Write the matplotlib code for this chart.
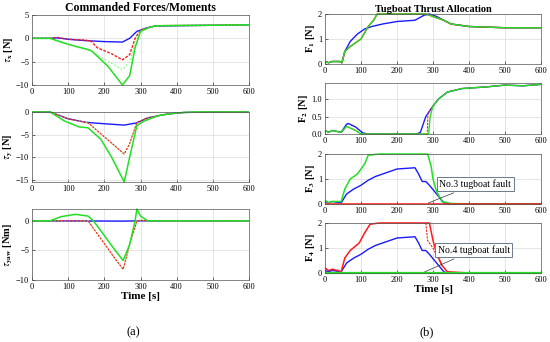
import matplotlib
matplotlib.use("Agg")
import matplotlib.pyplot as plt

plt.rcParams['font.family'] = ['Liberation Serif', 'DejaVu Serif']
plt.rcParams['mathtext.fontset'] = 'stix'
plt.rcParams['lines.solid_capstyle'] = 'butt'

BLUE = '#1a1aff'
RED = '#ff1a1a'
GREEN = '#22e022'
LGREEN = '#7dff7d'

# ---------- (a) Commanded forces / moments ----------
tx_blue_t = [0, 50, 70, 100, 150, 200, 250, 270, 290, 320, 340, 400, 500, 600]
tx_blue_v = [0, 0, 0.1, -0.2, -0.5, -0.7, -0.8, 0.0, 1.5, 2.3, 2.6, 2.7, 2.8, 2.9]
tx_red_t = [0, 50, 70, 100, 150, 165, 180, 220, 250, 270, 285, 300, 330, 350, 400, 500, 600]
tx_red_v = [0, 0, 0.2, -0.2, -0.4, -0.7, -2.0, -3.3, -4.6, -3.5, 0.0, 1.8, 2.5, 2.7, 2.75, 2.8, 2.9]
tx_lg_t = [0, 50, 80, 120, 160, 200, 250, 270, 290, 310, 340, 400, 500, 600]
tx_lg_v = [0, 0, -0.7, -1.8, -2.5, -4.5, -6.7, -5.0, 0.0, 2.0, 2.6, 2.75, 2.8, 2.9]
tx_gr_t = [0, 50, 80, 110, 150, 165, 210, 250, 270, 285, 300, 330, 350, 400, 500, 600]
tx_gr_v = [0, 0, -0.8, -1.5, -2.3, -2.7, -6.0, -10.0, -8.0, -2.0, 1.5, 2.5, 2.7, 2.75, 2.8, 2.9]

ty_blue_t = [0, 50, 100, 150, 200, 255, 290, 320, 370, 420, 500, 600]
ty_blue_v = [0, 0, -1.5, -2.3, -2.6, -2.9, -2.4, -1.3, -0.5, -0.1, 0.0, 0.0]
ty_red_t = [0, 50, 100, 155, 200, 255, 270, 290, 320, 370, 420, 500, 600]
ty_red_v = [0, 0, -1.5, -2.4, -5.5, -9.3, -7.0, -2.3, -1.3, -0.5, -0.1, 0.0, 0.0]
ty_gr_t = [0, 50, 90, 130, 155, 190, 220, 255, 270, 290, 310, 350, 400, 450, 600]
ty_gr_v = [0, 0, -2.0, -3.3, -3.5, -6.0, -10.0, -15.5, -10.0, -3.0, -2.0, -0.8, -0.2, 0.0, 0.0]

tw_blue_t = [0, 200, 250, 290, 600]
tw_blue_v = [0, -0.03, -0.05, 0.0, 0.0]
tw_red_t = [0, 155, 190, 225, 252, 270, 290, 300, 320, 600]
tw_red_v = [0, 0, -3.0, -6.0, -8.2, -4.0, 0.0, 0.1, 0.0, 0.0]
tw_gr_t = [0, 50, 80, 120, 155, 170, 200, 230, 252, 270, 285, 290, 300, 320, 600]
tw_gr_v = [0, 0, 0.7, 1.1, 0.8, 0.0, -2.5, -5.0, -6.7, -4.0, 0.0, 2.0, 0.8, 0.0, 0.0]

# ---------- (b) Tugboat thrust allocation ----------
f1_blue_t = [0, 10, 20, 40, 47, 55, 70, 90, 110, 130, 160, 200, 250, 275, 290, 310, 330, 350, 400, 500, 600]
f1_blue_v = [0.1, 0.05, 0.1, 0.1, 0.05, 0.5, 0.9, 1.2, 1.4, 1.5, 1.6, 1.7, 1.75, 1.95, 2.0, 1.9, 1.75, 1.6, 1.5, 1.45, 1.45]
f1_gr_t = [0, 10, 20, 40, 47, 55, 70, 100, 120, 135, 145, 280, 300, 330, 350, 400, 500, 600]
f1_gr_v = [0.1, 0.05, 0.1, 0.1, 0.05, 0.5, 0.7, 1.0, 1.5, 1.75, 2.0, 2.0, 1.9, 1.75, 1.6, 1.5, 1.45, 1.45]

f2_blue_t = [0, 10, 20, 45, 60, 65, 85, 105, 120, 255, 265, 280, 300, 315, 340, 380, 450, 500, 550, 600]
f2_blue_v = [0.1, 0.05, 0.1, 0.05, 0.28, 0.3, 0.2, 0.03, 0.0, 0.0, 0.05, 0.5, 0.8, 1.0, 1.2, 1.3, 1.35, 1.4, 1.38, 1.42]
f2_red_t = [0, 10, 20, 45, 60, 85, 100, 284, 286, 300, 315, 340, 380, 450, 500, 550, 600]
f2_red_v = [0.1, 0.05, 0.1, 0.05, 0.22, 0.1, 0.0, 0.0, 0.6, 0.8, 1.0, 1.2, 1.3, 1.35, 1.4, 1.38, 1.42]
f2_gr_t = [0, 10, 20, 45, 60, 85, 100, 288, 292, 300, 315, 340, 380, 450, 500, 550, 600]
f2_gr_v = [0.1, 0.05, 0.1, 0.05, 0.22, 0.1, 0.0, 0.0, 0.5, 0.8, 1.0, 1.2, 1.3, 1.35, 1.4, 1.38, 1.42]

f3_blue_t = [0, 10, 20, 45, 60, 80, 100, 120, 140, 180, 200, 250, 260, 270, 280, 290, 310, 330, 340, 600]
f3_blue_v = [0.1, 0.05, 0.1, 0.05, 0.4, 0.6, 0.75, 0.95, 1.1, 1.3, 1.4, 1.45, 1.2, 0.9, 0.9, 0.75, 0.4, 0.05, 0.0, 0.0]
f3_gr_t = [0, 10, 20, 45, 55, 70, 90, 110, 120, 150, 285, 295, 300, 310, 325, 350, 400, 600]
f3_gr_v = [0.15, 0.05, 0.1, 0.1, 0.6, 1.0, 1.2, 1.6, 1.95, 2.0, 2.0, 1.5, 1.0, 0.5, 0.1, 0.02, 0.0, 0.0]
f3_red_t = [0, 600]
f3_red_v = [0.0, 0.0]

f4_red_t = [0, 10, 20, 35, 45, 55, 70, 95, 110, 125, 150, 290, 300, 310, 325, 340, 400, 600]
f4_red_v = [0.2, 0.1, 0.15, 0.1, 0.05, 0.6, 0.9, 1.2, 1.6, 1.95, 2.0, 2.0, 1.3, 0.8, 0.3, 0.05, 0.0, 0.0]
f4_redd_t = [280, 285, 300, 310, 325]
f4_redd_v = [2.0, 1.3, 1.0, 0.7, 0.3]
f4_blue_t = [0, 10, 20, 45, 60, 80, 100, 120, 140, 180, 200, 250, 260, 270, 280, 290, 310, 330, 340, 600]
f4_blue_v = [0.1, 0.05, 0.1, 0.05, 0.4, 0.6, 0.75, 0.95, 1.1, 1.3, 1.4, 1.45, 1.2, 0.9, 0.9, 0.75, 0.4, 0.05, 0.0, 0.0]
f4_gr_t = [0, 600]
f4_gr_v = [0.0, 0.0]

fig = plt.figure(figsize=(5.5, 3.42), dpi=100)


def style(ax, ylim, yticks, ylabel, xlabel=None):
    ax.set_xlim(0, 600)
    ax.set_ylim(*ylim)
    ax.set_xticks([0, 100, 200, 300, 400, 500, 600])
    ax.set_yticks(yticks)
    ax.grid(True, color='#dcdcdc', linewidth=0.5)
    ax.set_axisbelow(True)
    ax.tick_params(direction='in', labelsize=6, length=2, width=0.4, pad=2)
    for s in ax.spines.values():
        s.set_linewidth(0.5)
        s.set_color('#555555')
    ax.set_ylabel(ylabel, fontsize=7.5, fontweight='bold', labelpad=1)
    if xlabel:
        ax.set_xlabel(xlabel, fontsize=8, fontweight='bold', labelpad=1)


def line(ax, t, v, **kw):
    ax.plot(t, v, clip_on=False, **kw)


lx, lw = 32 / 550, 217 / 550
left_pos = [(15, 85), (112, 182), (209, 280)]
axL = [fig.add_axes([lx, 1 - b / 342, lw, (b - t) / 342]) for t, b in left_pos]

ax = axL[0]
line(ax, tx_blue_t, tx_blue_v, color=BLUE, lw=1.0)
line(ax, tx_red_t, tx_red_v, color=RED, lw=1.0, ls='--', dashes=(2, 1))
line(ax, tx_lg_t, tx_lg_v, color=LGREEN, lw=1.0, ls=':')
line(ax, tx_gr_t, tx_gr_v, color=GREEN, lw=1.1)
style(ax, (-10, 5), [-10, -5, 0, 5], r'$\tau_{\mathbf{x}}$ [N]')
ax.set_title('Commanded Forces/Moments', fontsize=8.5, fontweight='bold', pad=3)

ax = axL[1]
line(ax, ty_blue_t, ty_blue_v, color=BLUE, lw=1.0)
line(ax, ty_red_t, ty_red_v, color=LGREEN, lw=1.0, ls=':')
line(ax, ty_red_t, ty_red_v, color=RED, lw=0.8, ls='--', dashes=(2, 1))
line(ax, ty_gr_t, ty_gr_v, color=GREEN, lw=1.1)
style(ax, (-15.5, 0), [-15, -10, -5, 0], r'$\tau_{\mathbf{y}}$ [N]')

ax = axL[2]
line(ax, tw_blue_t, tw_blue_v, color=BLUE, lw=1.0)
line(ax, tw_red_t, tw_red_v, color=LGREEN, lw=1.0, ls=':')
line(ax, tw_red_t, tw_red_v, color=RED, lw=0.8, ls='--', dashes=(2, 1))
line(ax, tw_gr_t, tw_gr_v, color=GREEN, lw=1.1)
style(ax, (-10, 2), [-10, -5, 0], r'$\tau_{\mathbf{yaw}}$ [Nm]', 'Time [s]')

rx, rw = 325 / 550, 216 / 550
right_pos = [(14, 64), (83, 134), (154, 204), (223, 273)]
axR = [fig.add_axes([rx, 1 - b / 342, rw, (b - t) / 342]) for t, b in right_pos]

ax = axR[0]
line(ax, f1_blue_t, f1_blue_v, color=BLUE, lw=1.0)
line(ax, f1_gr_t, f1_gr_v, color=RED, lw=1.0)
line(ax, f1_gr_t, f1_gr_v, color=GREEN, lw=1.0)
style(ax, (0, 2), [0, 1, 2], r'F$_{\mathbf{1}}$ [N]')
ax.set_title('Tugboat Thrust Allocation', fontsize=7.5, fontweight='bold', pad=1)

ax = axR[1]
line(ax, f2_blue_t, f2_blue_v, color=BLUE, lw=1.0)
line(ax, f2_red_t, f2_red_v, color=RED, lw=0.8, ls='--', dashes=(2, 1))
line(ax, f2_gr_t, f2_gr_v, color=GREEN, lw=1.0)
style(ax, (0, 1.46), [0, 0.5, 1], r'F$_{\mathbf{2}}$ [N]')

ax = axR[2]
line(ax, f3_blue_t, f3_blue_v, color=BLUE, lw=1.0)
line(ax, f3_gr_t, f3_gr_v, color=GREEN, lw=1.1)
line(ax, f3_red_t, f3_red_v, color=RED, lw=1.1)
style(ax, (0, 2), [0, 1, 2], r'F$_{\mathbf{3}}$ [N]')
ax.annotate('No.3 tugboat fault', xy=(280, 0), xytext=(318, 0.68),
            fontsize=7, color='black',
            bbox=dict(boxstyle='square,pad=0.25', fc='white', ec='#6a7a8a', lw=0.7),
            arrowprops=dict(arrowstyle='-', color='#333333', lw=0.5))

ax = axR[3]
line(ax, f4_blue_t, f4_blue_v, color=BLUE, lw=1.0)
line(ax, f4_red_t, f4_red_v, color=RED, lw=1.1)
line(ax, f4_redd_t, f4_redd_v, color=RED, lw=0.8, ls='--', dashes=(2, 1))
line(ax, f4_gr_t, f4_gr_v, color=GREEN, lw=1.6)
style(ax, (0, 2), [0, 1, 2], r'F$_{\mathbf{4}}$ [N]', 'Time [s]')
ax.annotate('No.4 tugboat fault', xy=(270, 0), xytext=(313, 0.8),
            fontsize=7, color='black',
            bbox=dict(boxstyle='square,pad=0.25', fc='white', ec='#6a7a8a', lw=0.7),
            arrowprops=dict(arrowstyle='-', color='#333333', lw=0.5))

fig.text(133 / 550, 1 - 332 / 342, '(a)', fontsize=9, ha='center', va='center')
fig.text(427 / 550, 1 - 332 / 342, '(b)', fontsize=9, ha='center', va='center')

fig.savefig('out.png', dpi=100)
